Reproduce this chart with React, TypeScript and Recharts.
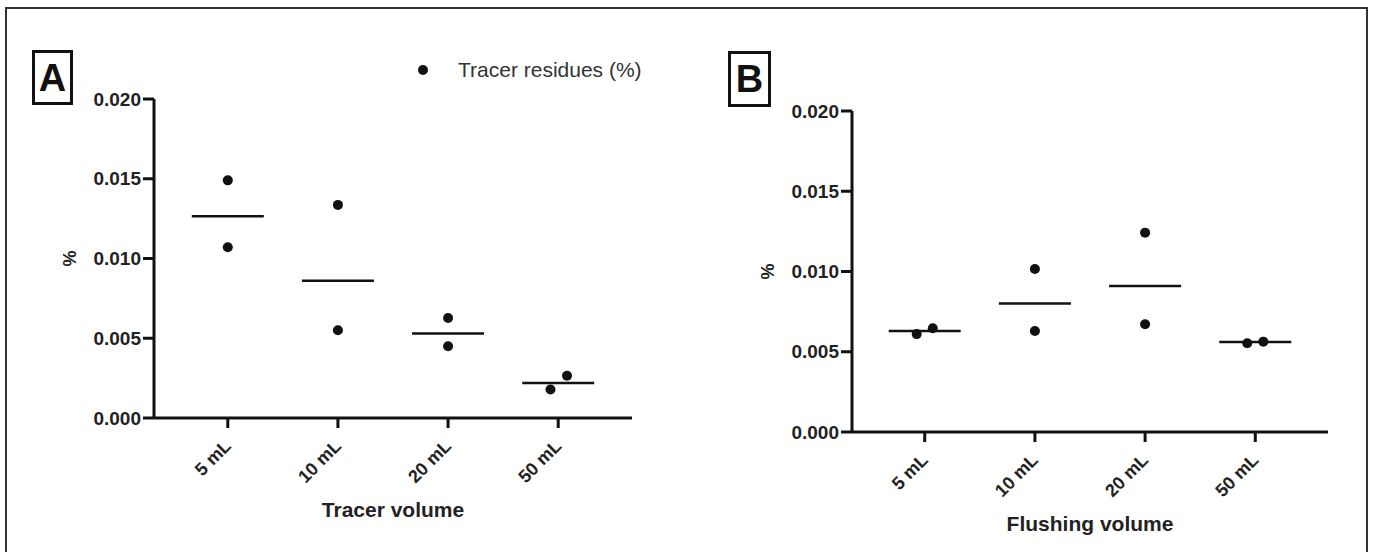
import React from 'react';
import { ScatterChart, Scatter, XAxis, YAxis } from 'recharts';

const FONT = '"Liberation Sans", Arial, Helvetica, sans-serif';
const INK = '#111';

const volumes = ['5 mL', '10 mL', '20 mL', '50 mL'];
const yTicks = [0, 0.005, 0.01, 0.015, 0.02];

// panel A - tracer volume
const tracerRun1 = [0.0149, 0.01336, 0.00627, 0.00179];
const tracerRun2 = [0.0107, 0.0055, 0.0045, 0.00265];
const tracerMean = [0.01265, 0.0086, 0.0053, 0.0022];
const tracerJitter1 = [0, 0, 0, -0.07];
const tracerJitter2 = [0, 0, 0, 0.08];

// panel B - flushing volume
const flushRun1 = [0.0061, 0.01016, 0.01242, 0.00553];
const flushRun2 = [0.00646, 0.00629, 0.00671, 0.00563];
const flushMean = [0.0063, 0.008, 0.0091, 0.0056];
const flushJitter1 = [-0.073, 0, 0, -0.073];
const flushJitter2 = [0.073, 0, 0, 0.073];

const toPoints = (r1, r2, j1, j2) =>
  volumes.flatMap((v, i) => [
    { x: i + j1[i], y: r1[i] },
    { x: i + j2[i], y: r2[i] },
  ]);

const toMeans = (m) => volumes.map((v, i) => ({ x: i, y: m[i] }));

const Dot = (p) => <circle cx={p.cx} cy={p.cy} r={5} fill={INK} />;
const MeanBar = (p) => (
  <line x1={p.cx - 36} x2={p.cx + 36} y1={p.cy} y2={p.cy} stroke={INK} strokeWidth={2.5} />
);

const AngledTick = (props) => {
  const { x, y, payload } = props;
  const tx = x;
  const ty = y + 13;
  return (
    <text
      x={tx}
      y={ty}
      transform={`rotate(-45, ${tx}, ${ty})`}
      textAnchor="end"
      dominantBaseline="central"
      fontSize={18}
      fontWeight="bold"
      fill="#222"
      fontFamily={FONT}
    >
      {volumes[payload.value]}
    </text>
  );
};

const PercentLabel = (props) => {
  const vb = props.viewBox;
  const cx = vb.x + vb.width - 84;
  const cy = vb.y + vb.height / 2;
  return (
    <text
      x={cx}
      y={cy}
      transform={`rotate(-90, ${cx}, ${cy})`}
      textAnchor="middle"
      dominantBaseline="central"
      fontSize={18}
      fontWeight="bold"
      fill="#222"
      fontFamily={FONT}
    >
      %
    </text>
  );
};

function Panel({ left, width, margin, domain, points, means, title }) {
  return (
    <div style={{ position: 'absolute', left, top: 0 }}>
      <ScatterChart width={width} height={552} margin={margin}>
        <XAxis
          type="number"
          dataKey="x"
          domain={domain}
          ticks={[0, 1, 2, 3]}
          allowDataOverflow
          height={70}
          axisLine={{ stroke: INK, strokeWidth: 3 }}
          tickLine={{ stroke: INK, strokeWidth: 3 }}
          tickSize={10}
          tick={<AngledTick />}
          label={{
            value: title,
            position: 'bottom',
            offset: 14,
            fill: '#222',
            fontSize: 21,
            fontWeight: 'bold',
            fontFamily: FONT,
          }}
        />
        <YAxis
          type="number"
          dataKey="y"
          domain={[0, 0.02]}
          ticks={yTicks}
          width={90}
          axisLine={{ stroke: INK, strokeWidth: 3 }}
          tickLine={{ stroke: INK, strokeWidth: 3 }}
          tickSize={11}
          tickMargin={2}
          tickFormatter={(v) => v.toFixed(3)}
          tick={{ fill: '#222', fontSize: 19, fontWeight: 'bold', fontFamily: FONT }}
          label={{ content: <PercentLabel /> }}
        />
        <Scatter data={means} shape={MeanBar} isAnimationActive={false} />
        <Scatter data={points} shape={Dot} isAnimationActive={false} />
      </ScatterChart>
    </div>
  );
}

const boxStyle = {
  position: 'absolute',
  boxSizing: 'border-box',
  border: `3px solid ${INK}`,
  display: 'flex',
  alignItems: 'center',
  justifyContent: 'center',
  fontFamily: FONT,
  fontWeight: 'bold',
  fontSize: 38,
  color: INK,
  lineHeight: 1,
  background: '#fff',
} as React.CSSProperties;

export default function App() {
  return (
    <div
      style={{
        position: 'absolute',
        left: 0,
        top: 0,
        width: 1373,
        height: 552,
        overflow: 'hidden',
        background: '#fff',
        fontFamily: FONT,
      }}
    >
      <div
        style={{
          position: 'absolute',
          left: 5,
          top: 7,
          width: 1363,
          height: 560,
          boxSizing: 'border-box',
          border: '2px solid #333',
          borderBottom: 'none',
        }}
      />
      <Panel
        left={0}
        width={680}
        margin={{ top: 99, right: 48, left: 64, bottom: 64 }}
        domain={[-0.67, 3.67]}
        points={toPoints(tracerRun1, tracerRun2, tracerJitter1, tracerJitter2)}
        means={toMeans(tracerMean)}
        title="Tracer volume"
      />
      <Panel
        left={690}
        width={683}
        margin={{ top: 111, right: 45, left: 72, bottom: 50 }}
        domain={[-0.66, 3.66]}
        points={toPoints(flushRun1, flushRun2, flushJitter1, flushJitter2)}
        means={toMeans(flushMean)}
        title="Flushing volume"
      />
      <div style={{ ...boxStyle, left: 32, top: 50, width: 41, height: 55 }}>A</div>
      <div style={{ ...boxStyle, left: 728, top: 51, width: 43, height: 56 }}>B</div>
      <div
        style={{
          position: 'absolute',
          left: 418,
          top: 58,
          height: 24,
          display: 'flex',
          alignItems: 'center',
        }}
      >
        <span
          style={{ width: 10, height: 10, borderRadius: '50%', background: INK, display: 'inline-block' }}
        />
        <span style={{ marginLeft: 30, fontSize: 21, color: '#333', lineHeight: '24px' }}>
          Tracer residues (%)
        </span>
      </div>
    </div>
  );
}
